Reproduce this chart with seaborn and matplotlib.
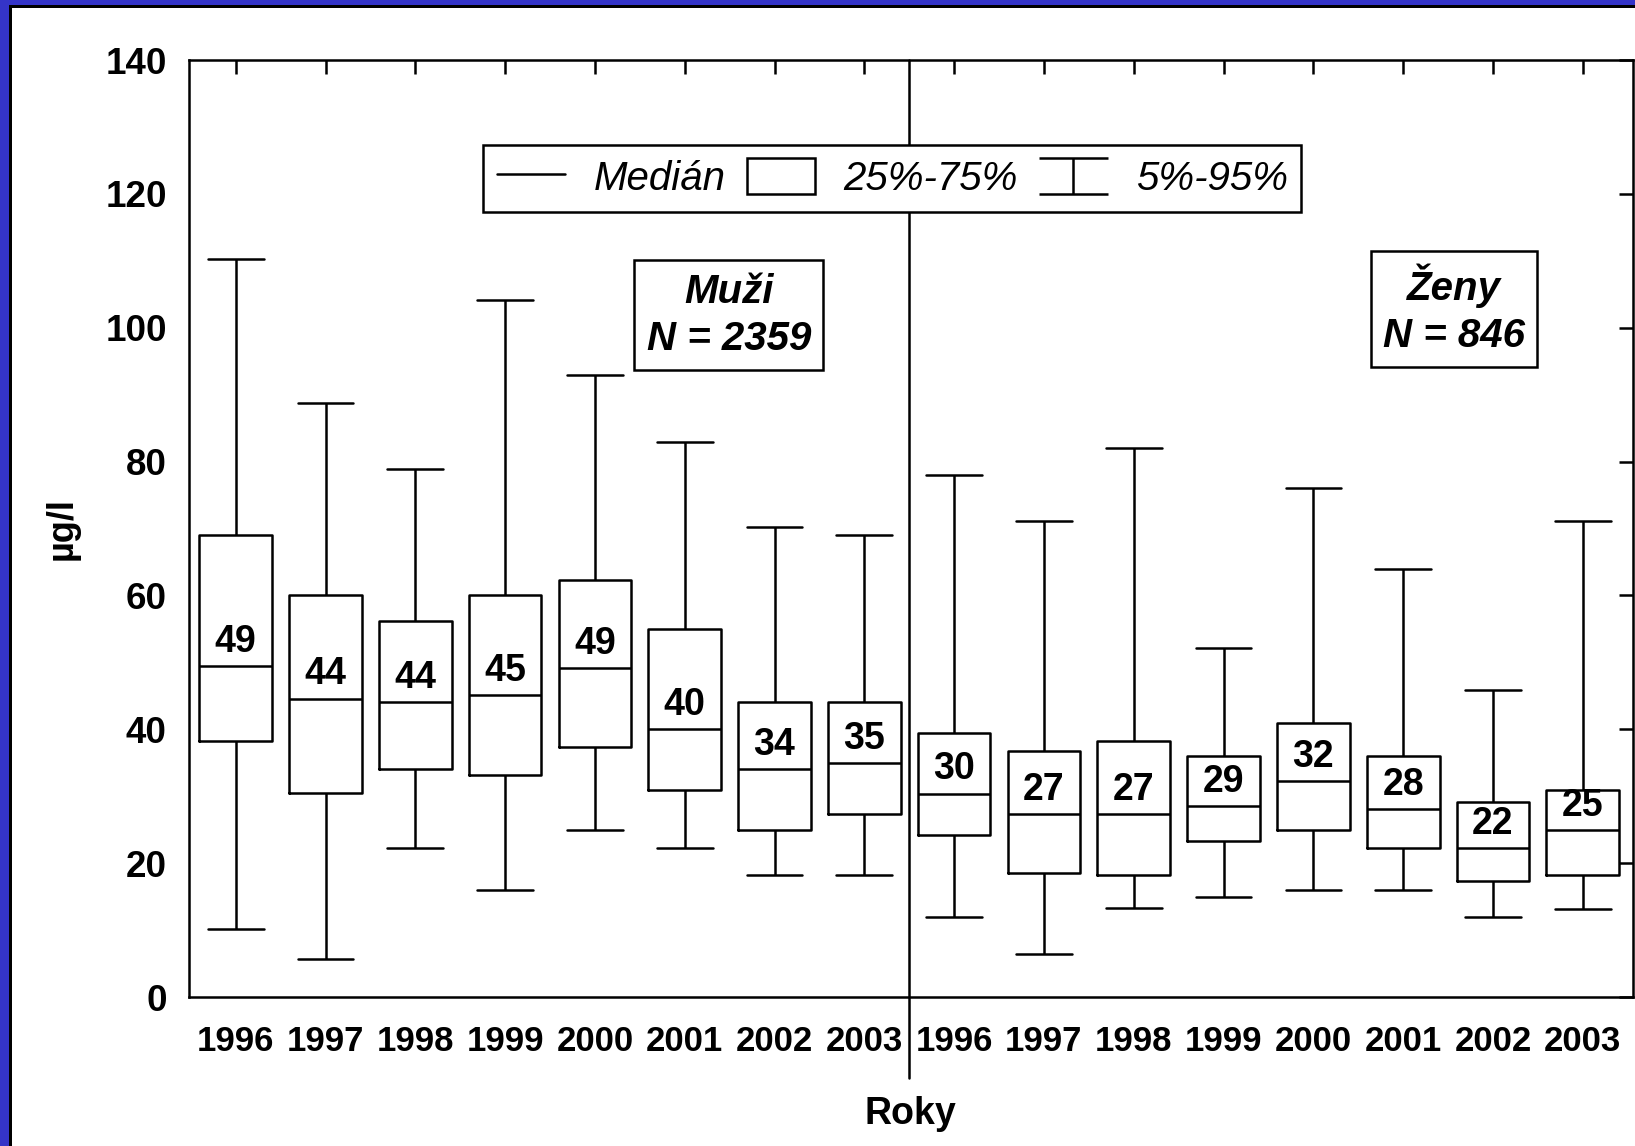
import numpy as np
import pandas as pd
import matplotlib
matplotlib.use("Agg")
import matplotlib.pyplot as plt
import matplotlib.transforms as mtransforms
import seaborn as sns
from matplotlib.lines import Line2D
from matplotlib.patches import Patch, Rectangle
from matplotlib.legend_handler import HandlerBase

# ---------------- data ----------------
years = ["1996", "1997", "1998", "1999", "2000", "2001", "2002", "2003"]

men_p5 = [10.2, 5.7, 22.3, 16.0, 25.0, 22.3, 18.2, 18.2]
men_q1 = [38.2, 30.5, 34.1, 33.2, 37.3, 31.0, 25.0, 27.4]
men_median = [49.5, 44.6, 44.1, 45.1, 49.1, 40.0, 34.1, 35.0]
men_q3 = [69.0, 60.0, 56.2, 60.0, 62.3, 55.0, 44.1, 44.1]
men_p95 = [110.2, 88.8, 78.9, 104.2, 93.0, 82.9, 70.3, 69.0]
men_labels = ["49", "44", "44", "45", "49", "40", "34", "35"]

women_p5 = [12.0, 6.5, 13.3, 15.0, 16.0, 16.0, 11.9, 13.2]
women_q1 = [24.2, 18.6, 18.2, 23.3, 25.0, 22.3, 17.3, 18.2]
women_median = [30.4, 27.3, 27.3, 28.6, 32.3, 28.1, 22.2, 25.0]
women_q3 = [39.5, 36.8, 38.2, 36.0, 40.9, 36.0, 29.1, 30.9]
women_p95 = [78.0, 71.2, 82.0, 52.1, 76.1, 64.0, 45.8, 71.2]
women_labels = ["30", "27", "27", "29", "32", "28", "22", "25"]

group_names = ["Muži\nN = 2359", "Ženy\nN = 846"]
legend_labels = ["Medián", "25%-75%", "5%-95%"]
y_ticks = [0, 20, 40, 60, 80, 100, 120, 140]

# ---------------- long-form table: five summary values per box ----------------
keys = ["M" + y for y in years] + ["Z" + y for y in years]
p5 = men_p5 + women_p5
q1 = men_q1 + women_q1
med = men_median + women_median
q3 = men_q3 + women_q3
p95 = men_p95 + women_p95
labels = men_labels + women_labels

rows = []
for k, a, b, c, d, e in zip(keys, p5, q1, med, q3, p95):
    for v in (a, b, c, d, e):
        rows.append({"group": k, "value": v})
df = pd.DataFrame(rows)

# ---------------- style ----------------
sns.set_theme(style="white")
plt.rcParams["font.family"] = ["Liberation Sans", "DejaVu Sans"]
plt.rcParams["font.weight"] = "bold"
for key in ["text.color", "axes.labelcolor", "xtick.color", "ytick.color",
            "axes.edgecolor"]:
    plt.rcParams[key] = "black"

LW = 1.8
fig = plt.figure(figsize=(16.35, 11.46), dpi=100)
fig.patch.set_facecolor("white")
ax = fig.add_axes([0.1156, 0.1300, 0.8832, 0.8176])

sns.boxplot(data=df, x="group", y="value", order=keys, whis=(0, 100),
            width=0.81, fill=False, color="black", linewidth=LW,
            capwidths=0.62, showfliers=False, ax=ax)

# median labels
for i, (m, lab) in enumerate(zip(med, labels)):
    ax.text(i, m + 3.6, lab, ha="center", va="center", fontsize=27,
            fontweight="bold", color="black", zorder=4)

# divider between the two groups
trans = mtransforms.blended_transform_factory(ax.transData, ax.transAxes)
ax.plot([7.5, 7.5], [-0.086, 1.0], color="black", lw=LW, transform=trans,
        clip_on=False, zorder=1.5)

# group boxes
box_kw = dict(boxstyle="square,pad=0.3", fc="white", ec="black", lw=LW)
ax.text(5.49, 101.9, group_names[0], ha="center", va="center", fontsize=29,
        fontweight="bold", fontstyle="italic", linespacing=1.3, bbox=box_kw,
        color="black", zorder=6)
ax.text(13.57, 102.8, group_names[1], ha="center", va="center", fontsize=29,
        fontweight="bold", fontstyle="italic", linespacing=1.3, bbox=box_kw,
        color="black", zorder=6)

# axes
ax.set_xlim(-0.52, 15.56)
ax.set_ylim(0, 140)
ax.set_yticks(y_ticks)
ax.set_yticklabels([str(t) for t in y_ticks], fontsize=26.5, fontweight="bold")
ax.set_xticks(range(len(keys)))
ax.set_xticklabels(years + years, fontsize=25, fontweight="bold")
ax.tick_params(axis="both", direction="in", length=10, width=LW, colors="black",
               top=True, right=True, labeltop=False, labelright=False)
ax.tick_params(axis="x", pad=20)
ax.tick_params(axis="y", pad=16)
for s in ax.spines.values():
    s.set_visible(True)
    s.set_color("black")
    s.set_linewidth(LW)

ax.set_xlabel("Roky", fontsize=27, fontweight="bold", color="black")
ax.set_ylabel("µg/l", fontsize=26, fontweight="bold", color="black")
ax.xaxis.set_label_coords(0.4993, -0.106)
ax.yaxis.set_label_coords(-0.0755, 0.5)


# legend
class HandlerWhisker(HandlerBase):
    def create_artists(self, legend, orig_handle, xdescent, ydescent,
                       width, height, fontsize, trans):
        x0, x1 = -xdescent, width - xdescent
        y0, y1 = -ydescent, height - ydescent
        cx = (x0 + x1) / 2
        kw = dict(color="black", lw=LW, transform=trans, solid_capstyle="butt")
        return [Line2D([cx, cx], [y0, y1], **kw),
                Line2D([x0, x1], [y1, y1], **kw),
                Line2D([x0, x1], [y0, y0], **kw)]


h_med = Line2D([], [], color="black", lw=LW)
h_box = Patch(facecolor="white", edgecolor="black", lw=LW)
h_whi = Line2D([], [], color="black", lw=LW)
leg = ax.legend([h_med, h_box, h_whi], legend_labels, ncol=3, loc="center",
                bbox_to_anchor=(0.487, 0.874),
                handler_map={h_whi: HandlerWhisker()},
                prop={"family": "Liberation Sans", "style": "italic",
                      "weight": "normal", "size": 29},
                frameon=True, fancybox=False, framealpha=1, edgecolor="black",
                handlelength=1.7, handleheight=1.0, handletextpad=0.7,
                columnspacing=0.53, borderpad=0.34, labelcolor="black")
leg.get_frame().set_linewidth(LW)
leg.set_zorder(7)

# blue slide border (top and left)
W, H = 1635.0, 1146.0
blue = "#3434C8"
fig.patches.append(Rectangle((0, 1 - 5 / H), 1, 5 / H, transform=fig.transFigure,
                             fc=blue, ec="none", zorder=0))
fig.patches.append(Rectangle((0, 0), 9 / W, 1, transform=fig.transFigure,
                             fc=blue, ec="none", zorder=0))
fig.patches.append(Rectangle((9 / W, 1 - 8 / H), 1, 3 / H, transform=fig.transFigure,
                             fc="black", ec="none", zorder=0))
fig.patches.append(Rectangle((9 / W, 0), 3 / W, 1 - 5 / H, transform=fig.transFigure,
                             fc="black", ec="none", zorder=0))

fig.savefig("out.png", dpi=100)
